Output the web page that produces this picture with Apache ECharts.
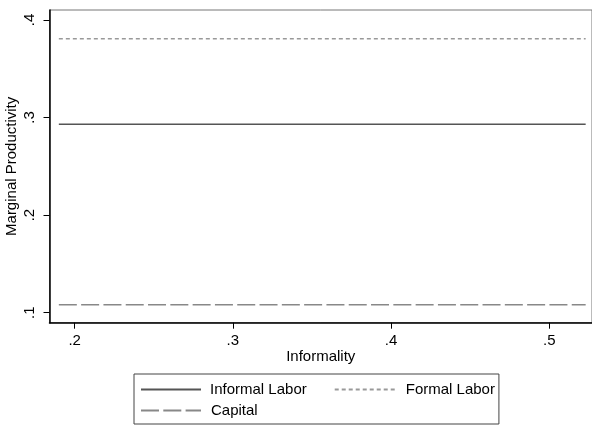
<!DOCTYPE html>
<html>
<head>
<meta charset="utf-8">
<script src="https://cdn.jsdelivr.net/npm/echarts@6/dist/echarts.min.js"></script>
<style>html,body{margin:0;padding:0;background:#fff}#c{width:592px;height:428px}</style>
</head>
<body>
<div id="c"></div>
<script>
var seriesNames = ['Informal Labor', 'Formal Labor', 'Capital'];
var informalityX = [0.19, 0.523];
var informalLabor = [0.2931, 0.2931];
var formalLabor = [0.3808, 0.3808];
var capital = [0.1082, 0.1082];
var xTicks = [0.2, 0.3, 0.4, 0.5];
var yTicks = [0.1, 0.2, 0.3, 0.4];

function pairs(xs, ys) { return xs.map(function (x, i) { return [x, ys[i]]; }); }
function fmt(v) { return '.' + String(Math.round(v * 10)); }

var FONT = "'Liberation Sans', Arial, sans-serif";
var FS = 15;
var chart = echarts.init(document.getElementById('c'), null, { renderer: 'canvas' });
chart.setOption({
  animation: false,
  backgroundColor: '#fff',
  grid: { left: 49.5, top: 10, right: 0, bottom: 105.3, show: true, borderColor: '#777', borderWidth: 1,
          containLabel: false, outerBoundsMode: 'none' },
  xAxis: {
    type: 'value', min: 0.1841, max: 0.527,
    name: 'Informality', nameLocation: 'middle', nameGap: 27, nameMoveOverlap: false,
    nameTextStyle: { fontFamily: FONT, fontSize: FS, color: '#000' },
    axisLine: { show: true, onZero: false, lineStyle: { color: '#000', width: 1.5 } },
    axisTick: { show: true, length: 6, customValues: xTicks, lineStyle: { color: '#000' } },
    axisLabel: { customValues: xTicks, formatter: fmt, margin: 11, fontFamily: FONT, fontSize: FS, color: '#000' },
    splitLine: { show: false }
  },
  yAxis: {
    type: 'value', min: 0.0897, max: 0.4102,
    name: 'Marginal Productivity', nameLocation: 'middle', nameGap: 30, nameMoveOverlap: false,
    nameTextStyle: { fontFamily: FONT, fontSize: FS, color: '#000' },
    axisLine: { show: true, onZero: false, lineStyle: { color: '#000', width: 1.5 } },
    axisTick: { show: true, length: 6, customValues: yTicks, lineStyle: { color: '#000' } },
    axisLabel: { customValues: yTicks, formatter: fmt, rotate: 90, margin: 12, fontFamily: FONT, fontSize: FS, color: '#000' },
    splitLine: { show: false }
  },
  legend: {
    left: 134, top: 374, width: 360,
    orient: 'horizontal', itemGap: 4, itemWidth: 60, itemHeight: 14,
    padding: [7, 4, 5, 6],
    borderColor: '#444', borderWidth: 1,
    itemStyle: { opacity: 0 },
    textStyle: { fontFamily: FONT, fontSize: FS, color: '#000', lineHeight: 17 },
    data: [
      { name: seriesNames[0], textStyle: { padding: [0, 23, 0, 4] } },
      { name: seriesNames[1], textStyle: { padding: [0, 0, 0, 6] } },
      { name: seriesNames[2], textStyle: { padding: [0, 60, 0, 5] } }
    ]
  },
  series: [
    { name: seriesNames[0], type: 'line', symbol: 'none', data: pairs(informalityX, informalLabor),
      lineStyle: { color: '#555', width: 1.5, type: 'solid' }, itemStyle: { color: '#555' } },
    { name: seriesNames[1], type: 'line', symbol: 'none', data: pairs(informalityX, formalLabor),
      lineStyle: { color: '#999', width: 1.5, type: [4, 3] }, itemStyle: { color: '#999' } },
    { name: seriesNames[2], type: 'line', symbol: 'none', data: pairs(informalityX, capital),
      lineStyle: { color: '#888', width: 1.5, type: [18, 4.3] }, itemStyle: { color: '#888' } }
  ]
});
</script>
</body>
</html>
